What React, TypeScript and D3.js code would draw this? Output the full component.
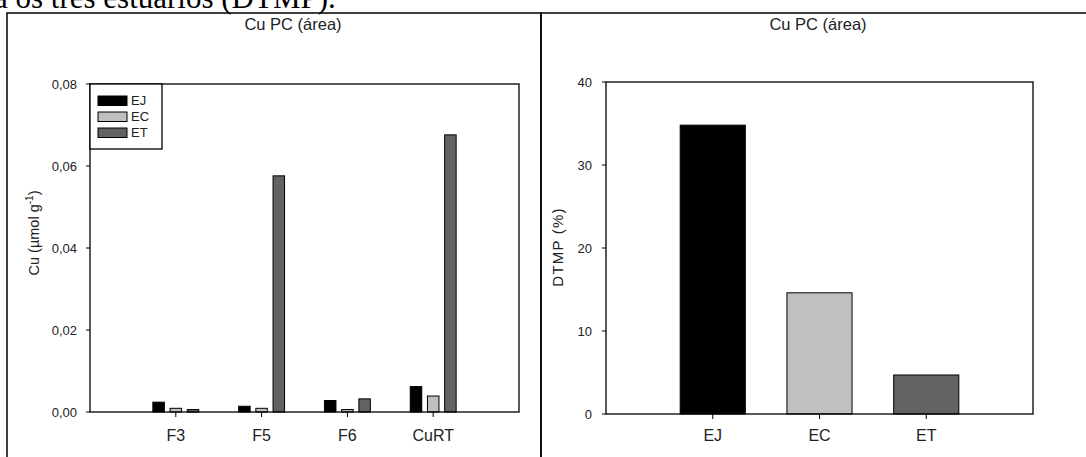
import React from "react";
import * as d3 from "d3";

// Cu in the PC fractions (µmol g-1) by estuary
const fractions = ["F3", "F5", "F6", "CuRT"];
const estuaries = ["EJ", "EC", "ET"];
const cuEJ = [0.0024, 0.0014, 0.0028, 0.0062];
const cuEC = [0.0009, 0.0009, 0.0006, 0.0039];
const cuET = [0.0006, 0.0576, 0.0032, 0.0676];
const cuTicks = [0, 0.02, 0.04, 0.06, 0.08];

// DTMP (%) by estuary
const dtmp = [34.8, 14.6, 4.7];
const dtmpTicks = [0, 10, 20, 30, 40];

const estuaryFill: Record<string, string> = {
  EJ: "#000000",
  EC: "#c0c0c0",
  ET: "#626262",
};

const W = 1086;
const H = 457;
const SANS = "'Liberation Sans', Arial, sans-serif";

const ptBR = d3.formatLocale({
  decimal: ",",
  thousands: ".",
  grouping: [3],
  currency: ["", ""],
});
const fmt2 = ptBR.format(".2f");

export default function App() {
  // ----- left panel scales -----
  const L = { x0: 90, x1: 519, y0: 412, y1: 84 };
  const xL = d3.scalePoint<string>().domain(fractions).range([L.x0, L.x1]).padding(1);
  const barL = 11.5;
  const slotL = 17.2;
  const inner = d3
    .scaleBand<string>()
    .domain(estuaries)
    .range([-(slotL + barL / 2), slotL + barL / 2])
    .paddingInner(1 - barL / slotL)
    .paddingOuter(0);
  const yL = d3.scaleLinear().domain([0, 0.08]).range([L.y0, L.y1]);
  const seriesL: Record<string, number[]> = { EJ: cuEJ, EC: cuEC, ET: cuET };

  // ----- right panel scales -----
  const R = { x0: 606, x1: 1033, y0: 414, y1: 82 };
  const xR = d3.scalePoint<string>().domain(estuaries).range([R.x0, R.x1]).padding(1);
  const barR = xR.step() * 0.61;
  const yR = d3.scaleLinear().domain([0, 40]).range([R.y0, R.y1]);

  const legendRows = estuaries.map((e, i) => ({ e, y: 96 + i * 16 }));

  return (
    <svg
      width={W}
      height={H}
      viewBox={`0 0 ${W} ${H}`}
      style={{ position: "fixed", left: 0, top: 0, display: "block", background: "#fff" }}
    >
      <rect x={0} y={0} width={W} height={H} fill="#fff" />

      {/* running caption above the figure */}
      <text
        x={-6}
        y={8}
        fontFamily="'Liberation Serif', 'Times New Roman', serif"
        fontSize={31}
        fill="#000"
      >
        a os três estuários (DTMP).
      </text>

      {/* panel frames */}
      <rect x={7} y={13} width={534} height={480} fill="none" stroke="#000" strokeWidth={1.5} />
      <rect x={541} y={13} width={560} height={480} fill="none" stroke="#000" strokeWidth={1.5} />

      {/* ===== left panel ===== */}
      <text x={293} y={30} textAnchor="middle" fontFamily={SANS} fontSize={16.5} fill="#222">
        Cu PC (área)
      </text>

      {fractions.map((f, i) =>
        estuaries.map((e) => {
          const v = seriesL[e][i];
          const cx = (xL(f) as number) + (inner(e) as number);
          return (
            <rect
              key={f + e}
              x={cx}
              y={yL(v)}
              width={inner.bandwidth()}
              height={yL(0) - yL(v)}
              fill={estuaryFill[e]}
              stroke="#000"
              strokeWidth={1}
            />
          );
        })
      )}

      <rect
        x={L.x0}
        y={L.y1}
        width={L.x1 - L.x0}
        height={L.y0 - L.y1}
        fill="none"
        stroke="#000"
        strokeWidth={1.3}
      />

      {cuTicks.map((t) => (
        <g key={"yl" + t}>
          <line x1={L.x0 - 4} x2={L.x0} y1={yL(t)} y2={yL(t)} stroke="#000" strokeWidth={1} />
          <text
            x={L.x0 - 13}
            y={yL(t) + 4.5}
            textAnchor="end"
            fontFamily={SANS}
            fontSize={13}
            fill="#222"
          >
            {fmt2(t)}
          </text>
        </g>
      ))}

      {fractions.map((f) => (
        <g key={"xl" + f}>
          <line
            x1={xL(f) as number}
            x2={xL(f) as number}
            y1={L.y0}
            y2={L.y0 + 5}
            stroke="#000"
            strokeWidth={1}
          />
          <text
            x={xL(f) as number}
            y={441}
            textAnchor="middle"
            fontFamily={SANS}
            fontSize={16}
            fill="#222"
          >
            {f}
          </text>
        </g>
      ))}

      <text
        transform="translate(39,233) rotate(-90)"
        textAnchor="middle"
        fontFamily={SANS}
        fontSize={14.5}
        fill="#222"
      >
        Cu (µmol g
        <tspan fontSize={10} dy={-6}>
          -1
        </tspan>
        <tspan dy={6}>)</tspan>
      </text>

      {/* legend */}
      <rect x={L.x0} y={L.y1} width={72} height={65} fill="#fff" stroke="#000" strokeWidth={1.3} />
      {legendRows.map((r) => (
        <g key={"lg" + r.e}>
          <rect x={98} y={r.y} width={29} height={9.5} fill={estuaryFill[r.e]} stroke="#000" strokeWidth={1} />
          <text x={131} y={r.y + 9} fontFamily={SANS} fontSize={13} fill="#222">
            {r.e}
          </text>
        </g>
      ))}

      {/* ===== right panel ===== */}
      <text x={818} y={30} textAnchor="middle" fontFamily={SANS} fontSize={16.5} fill="#222">
        Cu PC (área)
      </text>

      {estuaries.map((e, i) => (
        <rect
          key={"br" + e}
          x={(xR(e) as number) - barR / 2}
          y={yR(dtmp[i])}
          width={barR}
          height={yR(0) - yR(dtmp[i])}
          fill={estuaryFill[e]}
          stroke="#000"
          strokeWidth={1}
        />
      ))}

      <rect
        x={R.x0}
        y={R.y1}
        width={R.x1 - R.x0}
        height={R.y0 - R.y1}
        fill="none"
        stroke="#000"
        strokeWidth={1.3}
      />

      {dtmpTicks.map((t) => (
        <g key={"yr" + t}>
          <line x1={R.x0 - 4} x2={R.x0} y1={yR(t)} y2={yR(t)} stroke="#000" strokeWidth={1} />
          <text
            x={R.x0 - 14}
            y={yR(t) + 4.5}
            textAnchor="end"
            fontFamily={SANS}
            fontSize={13}
            fill="#222"
          >
            {t}
          </text>
        </g>
      ))}

      {estuaries.map((e) => (
        <g key={"xr" + e}>
          <line
            x1={xR(e) as number}
            x2={xR(e) as number}
            y1={R.y0}
            y2={R.y0 + 5}
            stroke="#000"
            strokeWidth={1}
          />
          <text
            x={xR(e) as number}
            y={441}
            textAnchor="middle"
            fontFamily={SANS}
            fontSize={16}
            fill="#222"
          >
            {e}
          </text>
        </g>
      ))}

      <text
        transform="translate(563,247) rotate(-90)"
        textAnchor="middle"
        fontFamily={SANS}
        fontSize={15}
        letterSpacing={1.2}
        fill="#222"
      >
        DTMP (%)
      </text>
    </svg>
  );
}
